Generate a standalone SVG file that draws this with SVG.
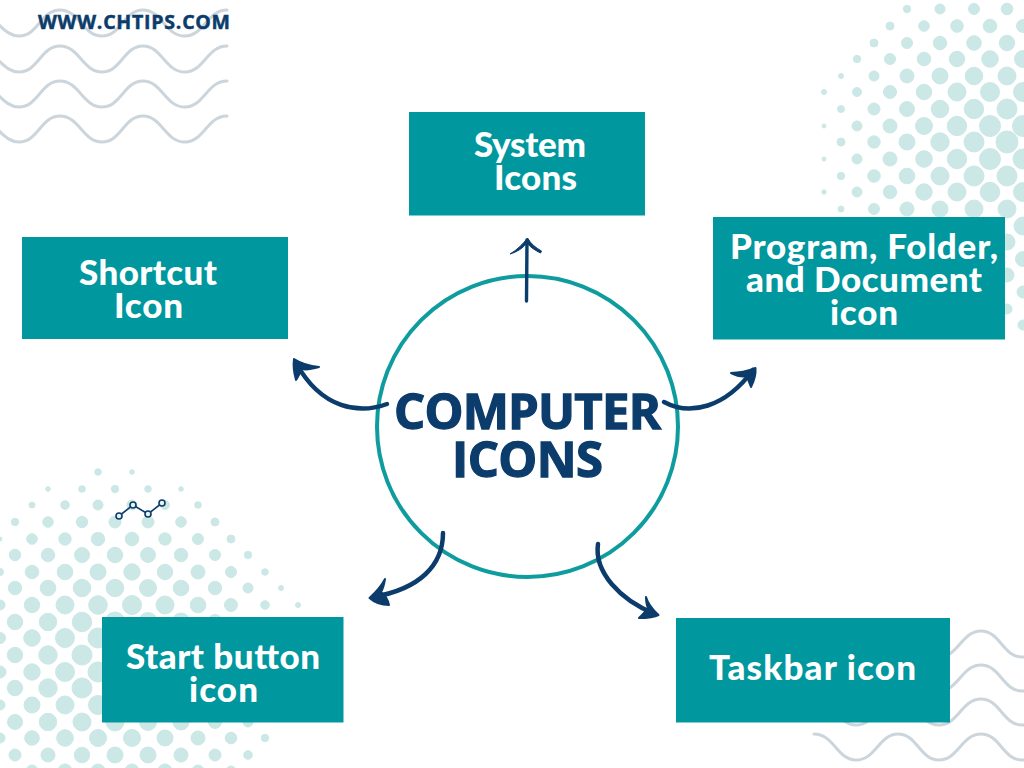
<svg xmlns="http://www.w3.org/2000/svg" width="1024" height="768" viewBox="0 0 1024 768">
<style>
.dots circle{fill:#cbe8e6;stroke:#cbe8e6;stroke-width:1}
.wave{fill:none;stroke:#cbd5db;stroke-width:3;stroke-linecap:round}
.box{fill:#00989e}
.lbl{font-family:"Lato","Liberation Sans",sans-serif;font-weight:900;font-size:35px;fill:#fff;text-anchor:middle}
.head{font-family:"Open Sans","Liberation Sans",sans-serif;font-weight:700;fill:#0b3c6b;stroke:#0b3c6b;stroke-width:1.3}
.arc{fill:none;stroke:#0b3c6b;stroke-width:4.5;stroke-linecap:round;stroke-linejoin:round}
.barb{fill:#0b3c6b;stroke:#0b3c6b;stroke-width:2;stroke-linejoin:round}
</style>
<defs>
<path id="w" class="wave" d="M-2 14C5 21 11 26 19 26C38 26 41 0 60 0C79 0 83 26 102 26C121 26 124 0 143 0C162 0 165 26 185 26C204 26 207 0 227 0"/>
</defs>
<rect width="1024" height="768" fill="#fff"/>
<g id="waves-top-left">
<use href="#w" y="10"/><use href="#w" y="46"/><use href="#w" y="81"/><use href="#w" y="116"/>
</g>
<g id="waves-bottom-right">
<use href="#w" transform="translate(1041,631) scale(-1,1)"/><use href="#w" transform="translate(1041,665) scale(-1,1)"/><use href="#w" transform="translate(1041,699) scale(-1,1)"/><use href="#w" transform="translate(1041,734) scale(-1,1)"/>
</g>
<g id="dots-top-right" class="dots">
<circle cx="907" cy="9" r="3.7"/><circle cx="940" cy="9" r="5"/><circle cx="974" cy="9" r="5.5"/><circle cx="1007" cy="9" r="5.8"/>
<circle cx="890" cy="26" r="4"/><circle cx="924" cy="26" r="5.3"/><circle cx="957" cy="26" r="6.3"/><circle cx="990" cy="26" r="6.8"/><circle cx="1023" cy="26" r="6.5"/>
<circle cx="874" cy="43" r="4"/><circle cx="907" cy="43" r="5.5"/><circle cx="940" cy="43" r="6.7"/><circle cx="974" cy="43" r="7.3"/><circle cx="1007" cy="43" r="7.7"/>
<circle cx="857" cy="59" r="3.7"/><circle cx="890" cy="59" r="5.5"/><circle cx="924" cy="59" r="6.8"/><circle cx="957" cy="59" r="7.7"/><circle cx="990" cy="59" r="8.3"/><circle cx="1023" cy="59" r="8.5"/>
<circle cx="841" cy="76" r="2.5"/><circle cx="874" cy="76" r="5"/><circle cx="907" cy="76" r="7"/><circle cx="940" cy="76" r="8"/><circle cx="974" cy="76" r="8.7"/><circle cx="1007" cy="76" r="9"/>
<circle cx="824" cy="92" r="2.5"/><circle cx="857" cy="92" r="4.5"/><circle cx="890" cy="92" r="6.5"/><circle cx="924" cy="92" r="7.7"/><circle cx="957" cy="92" r="9"/><circle cx="990" cy="92" r="9.5"/><circle cx="1023" cy="92" r="9.5"/>
<circle cx="841" cy="109" r="3.5"/><circle cx="874" cy="109" r="6"/><circle cx="907" cy="109" r="7.5"/><circle cx="940" cy="109" r="8.7"/><circle cx="974" cy="109" r="9.7"/><circle cx="1007" cy="109" r="10"/>
<circle cx="824" cy="126" r="2"/><circle cx="857" cy="126" r="5"/><circle cx="890" cy="126" r="7"/><circle cx="924" cy="126" r="8.5"/><circle cx="957" cy="126" r="9.7"/><circle cx="990" cy="126" r="10.5"/><circle cx="1023" cy="126" r="10.5"/>
<circle cx="841" cy="142" r="4"/><circle cx="874" cy="142" r="6.2"/><circle cx="907" cy="142" r="8"/><circle cx="940" cy="142" r="9.2"/><circle cx="974" cy="142" r="10"/><circle cx="1007" cy="142" r="11"/>
<circle cx="824" cy="159" r="2"/><circle cx="857" cy="159" r="5"/><circle cx="890" cy="159" r="7"/><circle cx="924" cy="159" r="8.3"/><circle cx="957" cy="159" r="9.7"/><circle cx="990" cy="159" r="10.5"/><circle cx="1023" cy="159" r="10"/>
<circle cx="841" cy="176" r="3.7"/><circle cx="874" cy="176" r="6.3"/><circle cx="907" cy="176" r="7.8"/><circle cx="940" cy="176" r="9"/><circle cx="974" cy="176" r="10"/><circle cx="1007" cy="176" r="10"/>
<circle cx="824" cy="192" r="2.2"/><circle cx="857" cy="192" r="5"/><circle cx="890" cy="192" r="6.7"/><circle cx="924" cy="192" r="8.2"/><circle cx="957" cy="192" r="9"/><circle cx="990" cy="192" r="9.7"/><circle cx="1023" cy="192" r="9.5"/>
<circle cx="841" cy="209" r="3"/><circle cx="874" cy="209" r="5.5"/><circle cx="907" cy="209" r="7"/><circle cx="940" cy="209" r="8"/><circle cx="974" cy="209" r="9"/><circle cx="1007" cy="209" r="9"/>
<circle cx="1023" cy="226" r="9"/><circle cx="1007" cy="242" r="8"/><circle cx="1023" cy="259" r="7.5"/><circle cx="1007" cy="275" r="7"/><circle cx="1023" cy="292" r="6"/><circle cx="1007" cy="309" r="5"/><circle cx="1023" cy="325" r="5"/>
</g>
<g id="dots-bottom-left" class="dots">
<circle cx="98" cy="472" r="3.3"/><circle cx="132" cy="472" r="2.3"/>
<circle cx="48" cy="489" r="2.3"/><circle cx="82" cy="489" r="3.3"/><circle cx="115" cy="489" r="3.7"/><circle cx="148" cy="489" r="3.3"/><circle cx="181" cy="489" r="2.3"/>
<circle cx="32" cy="505" r="3"/><circle cx="65" cy="505" r="4.3"/><circle cx="98" cy="505" r="5"/><circle cx="132" cy="505" r="5"/><circle cx="165" cy="505" r="4.5"/><circle cx="198" cy="505" r="3.3"/>
<circle cx="15" cy="522" r="3.7"/><circle cx="48" cy="522" r="5.3"/><circle cx="82" cy="522" r="5.7"/><circle cx="115" cy="522" r="6"/><circle cx="148" cy="522" r="6"/><circle cx="181" cy="522" r="5.3"/><circle cx="215" cy="522" r="4"/>
<circle cx="0" cy="539" r="2"/><circle cx="32" cy="539" r="5.3"/><circle cx="65" cy="539" r="6.2"/><circle cx="98" cy="539" r="6.7"/><circle cx="132" cy="539" r="6.8"/><circle cx="165" cy="539" r="6.2"/><circle cx="198" cy="539" r="5.5"/><circle cx="231" cy="539" r="4"/>
<circle cx="15" cy="555" r="5.7"/><circle cx="48" cy="555" r="6.7"/><circle cx="82" cy="555" r="7.5"/><circle cx="115" cy="555" r="7.7"/><circle cx="148" cy="555" r="7.5"/><circle cx="181" cy="555" r="6.7"/><circle cx="215" cy="555" r="5.5"/><circle cx="248" cy="555" r="3.7"/>
<circle cx="0" cy="572" r="3.5"/><circle cx="32" cy="572" r="6.8"/><circle cx="65" cy="572" r="7.8"/><circle cx="98" cy="572" r="8"/><circle cx="132" cy="572" r="8.2"/><circle cx="165" cy="572" r="7.7"/><circle cx="198" cy="572" r="7"/><circle cx="231" cy="572" r="5.5"/><circle cx="265" cy="572" r="3.3"/>
<circle cx="15" cy="588" r="6.7"/><circle cx="48" cy="588" r="7.8"/><circle cx="82" cy="588" r="8.7"/><circle cx="115" cy="588" r="8.7"/><circle cx="148" cy="588" r="8.5"/><circle cx="181" cy="588" r="7.8"/><circle cx="215" cy="588" r="6.7"/><circle cx="248" cy="588" r="5"/><circle cx="281" cy="588" r="2.5"/>
<circle cx="0" cy="605" r="5"/><circle cx="32" cy="605" r="7.7"/><circle cx="65" cy="605" r="9"/><circle cx="98" cy="605" r="9.3"/><circle cx="132" cy="605" r="9.5"/><circle cx="165" cy="605" r="9"/><circle cx="198" cy="605" r="7.8"/><circle cx="231" cy="605" r="6.5"/><circle cx="265" cy="605" r="4.3"/><circle cx="298" cy="605" r="2.5"/>
<circle cx="15" cy="622" r="7.7"/><circle cx="48" cy="622" r="8.7"/><circle cx="82" cy="622" r="9.7"/><circle cx="115" cy="622" r="10"/><circle cx="148" cy="622" r="9.5"/><circle cx="181" cy="622" r="9"/><circle cx="215" cy="622" r="7.5"/>
<circle cx="0" cy="638" r="5.5"/><circle cx="32" cy="638" r="8.3"/><circle cx="65" cy="638" r="9.5"/><circle cx="98" cy="638" r="10"/>
<circle cx="15" cy="655" r="7.7"/><circle cx="48" cy="655" r="9.2"/><circle cx="82" cy="655" r="10"/>
<circle cx="0" cy="672" r="6"/><circle cx="32" cy="672" r="8.2"/><circle cx="65" cy="672" r="9.5"/><circle cx="98" cy="672" r="10"/>
<circle cx="15" cy="688" r="7.7"/><circle cx="48" cy="688" r="9.2"/><circle cx="82" cy="688" r="10"/>
<circle cx="0" cy="705" r="5"/><circle cx="32" cy="705" r="8"/><circle cx="65" cy="705" r="9"/><circle cx="98" cy="705" r="9.5"/>
<circle cx="15" cy="722" r="7.5"/><circle cx="48" cy="722" r="8.7"/><circle cx="82" cy="722" r="9"/><circle cx="115" cy="722" r="9"/><circle cx="148" cy="722" r="8.5"/><circle cx="181" cy="722" r="8"/><circle cx="215" cy="722" r="6.5"/><circle cx="248" cy="722" r="5"/>
<circle cx="0" cy="738" r="5"/><circle cx="32" cy="738" r="7.3"/><circle cx="65" cy="738" r="8.3"/><circle cx="98" cy="738" r="8.5"/><circle cx="132" cy="738" r="8.5"/><circle cx="165" cy="738" r="8"/><circle cx="198" cy="738" r="7"/><circle cx="231" cy="738" r="5.8"/><circle cx="265" cy="738" r="3.7"/>
<circle cx="15" cy="755" r="6"/><circle cx="48" cy="755" r="7"/><circle cx="82" cy="755" r="7.7"/><circle cx="115" cy="755" r="8"/><circle cx="148" cy="755" r="8"/><circle cx="181" cy="755" r="7"/><circle cx="215" cy="755" r="6"/><circle cx="248" cy="755" r="4.3"/>
<circle cx="32" cy="771" r="6"/><circle cx="65" cy="771" r="7"/><circle cx="98" cy="771" r="7"/><circle cx="132" cy="771" r="7"/><circle cx="165" cy="771" r="7"/><circle cx="198" cy="771" r="6"/><circle cx="231" cy="771" r="5"/>
</g>
<g id="trend-icon" fill="#e9f4f6" stroke="#0b3c6b" stroke-width="1.6">
<polyline points="119,516 133,505 148,514 162,503" fill="none"/>
<circle cx="119" cy="516" r="3"/><circle cx="133" cy="505" r="3"/><circle cx="148" cy="514" r="3"/><circle cx="162" cy="503" r="3"/>
</g>
<text id="site" class="head" x="38" y="29" font-size="19.500" textLength="192" style="stroke-width:.5">WWW.CHTIPS.COM</text>
<g id="node-center">
<circle cx="527.5" cy="426.5" r="150.5" fill="#fff" stroke="#0f9c9f" stroke-width="4"/>
</g>
<g id="connectors">
<path class="arc" style="stroke-width:3.4" d="M526.5 301L527 240"/>
<path class="barb" style="stroke-width:1" d="M527.5 238C531 244 536 248 541.5 251L540.5 253C535 250 531 248 527 243C523 248 517 252 510 254C517 250 523 244 527.5 238Z"/>
<path class="arc" d="M387 404C360 414 322 410 296 363"/>
<path class="barb" d="M294 359C302 364 310 366 319 367C312 369 306 370 302 369C300 373 298 377 296 380C294 373 293 366 294 359Z"/>
<path class="arc" d="M664 402C690 416 725 408 753 370"/>
<path class="barb" d="M755.5 368C748 371 739 373 731 373C737 376 743 377 747 376C748 380 750 384 751 387C754 381 756 374 755.5 368Z"/>
<path class="arc" d="M443 533C443 565 420 589 373 597"/>
<path class="barb" d="M369.500 598C375 593 381 587 385 579C384 585 383 589 381 592C385 595 388 600 389 605C382 605 375 603 369.500 598Z"/>
<path class="arc" d="M598 544C594 572 620 600 655 614"/>
<path class="barb" d="M658.500 615C653 610 648 604 646 597C646 603 647 606 648 608C645 612 642 615 639 618C646 618 653 618 658.500 615Z"/>
</g>
<g id="label-center" class="head">
<text x="527.5" y="429" font-size="49" text-anchor="middle" textLength="267">COMPUTER</text>
<text x="527.5" y="477" font-size="49" text-anchor="middle" textLength="151">ICONS</text>
</g>
<g id="node-system">
<rect class="box" x="409" y="112" width="236" height="103.500"/>
<text class="lbl" x="530" y="157" textLength="112">System</text>
<text class="lbl" x="535.500" y="190" textLength="83">Icons</text>
</g>
<g id="node-shortcut">
<rect class="box" x="22" y="237" width="266" height="102"/>
<text class="lbl" x="148" y="285" textLength="138">Shortcut</text>
<text class="lbl" x="148.500" y="318" textLength="69">Icon</text>
</g>
<g id="node-program">
<rect class="box" x="713" y="217" width="292" height="122.500"/>
<text class="lbl" x="864" y="259" textLength="268">Program, Folder,</text>
<text class="lbl" x="864" y="292" textLength="236">and Document</text>
<text class="lbl" x="864" y="325" textLength="68">icon</text>
</g>
<g id="node-start">
<rect class="box" x="102" y="617" width="241.500" height="105.500"/>
<text class="lbl" x="223" y="669" textLength="194">Start button</text>
<text class="lbl" x="223.500" y="702" textLength="69">icon</text>
</g>
<g id="node-taskbar">
<rect class="box" x="676" y="618" width="274" height="104.500"/>
<text class="lbl" x="812.500" y="680" textLength="207">Taskbar icon</text>
</g>
</svg>
